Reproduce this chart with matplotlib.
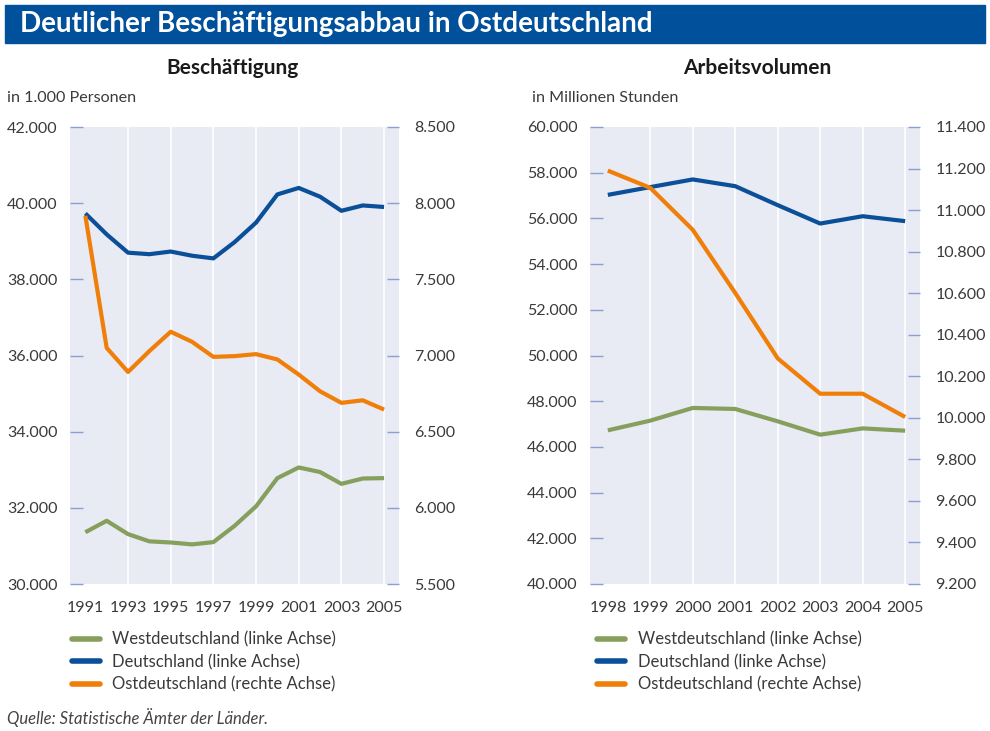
import matplotlib.pyplot as plt
import matplotlib.patches as mpatches
from matplotlib.ticker import FuncFormatter
from matplotlib.lines import Line2D

# Beschäftigung, in 1.000 Personen
years_b = list(range(1991, 2006))
west_b = [31360, 31660, 31310, 31120, 31090, 31040, 31100, 31530, 32040,
          32780, 33060, 32940, 32630, 32770, 32780]
de_b = [39730, 39180, 38700, 38660, 38730, 38620, 38550, 38980, 39490,
        40230, 40400, 40170, 39800, 39940, 39900]
ost_b = [7917, 7050, 6892, 7029, 7156, 7090, 6991, 6996, 7009,
         6974, 6875, 6765, 6689, 6706, 6645]

# Arbeitsvolumen, in Millionen Stunden
years_a = list(range(1998, 2006))
west_a = [46725, 47150, 47705, 47660, 47120, 46535, 46810, 46710]
de_a = [57030, 57370, 57705, 57410, 56580, 55775, 56095, 55880]
ost_a = [11190, 11107, 10905, 10601, 10286, 10116, 10116, 10004]

labels = ["Westdeutschland (linke Achse)", "Deutschland (linke Achse)",
          "Ostdeutschland (rechte Achse)"]

GREEN = "#879f5c"
BLUE = "#0a4f98"
ORANGE = "#f07f0a"
BG = "#e8eaf4"
TICK = "#8c9fd2"
TXT = "#3a3a3a"
FONT = "Lato"

plt.rcParams["font.family"] = [FONT, "DejaVu Sans"]

fig = plt.figure(figsize=(9.9, 7.31), dpi=100)

# title bar
fig.patches.append(mpatches.Rectangle((5 / 990, 1 - 43 / 731), 980 / 990, 38 / 731,
                                      transform=fig.transFigure, color="#00509b",
                                      zorder=0))
fig.text(20 / 990, 1 - 24 / 731, "Deutlicher Beschäftigungsabbau in Ostdeutschland",
         color="white", fontsize=20, fontweight="bold", va="center")


def thousands(v, pos):
    return f"{int(round(v)):,}".replace(",", ".")


def panel(rect, years, west, de, ost, ylim_l, yticks_l, ylim_r, yticks_r,
          xlim, xticks, grid_years, title, unit, title_x, unit_x):
    ax = fig.add_axes(rect)
    ax.set_facecolor(BG)
    ax.set_xlim(*xlim)
    ax.set_ylim(*ylim_l)
    for gy in grid_years:
        ax.axvline(gy, color="white", lw=1.2, zorder=1)
    ax.plot(years, west, color=GREEN, lw=3, zorder=3, solid_capstyle="butt")
    ax.plot(years, de, color=BLUE, lw=3, zorder=3, solid_capstyle="butt")
    ax.set_yticks(yticks_l)
    ax.set_xticks(xticks)
    ax.yaxis.set_major_formatter(FuncFormatter(thousands))
    ax.tick_params(axis="y", direction="in", length=9, width=1, color=TICK,
                   pad=9, labelsize=11.5, labelcolor=TXT)
    ax.tick_params(axis="x", length=0, pad=12, labelsize=11.5, labelcolor=TXT)
    for s in ax.spines.values():
        s.set_visible(False)

    ax2 = ax.twinx()
    ax2.set_ylim(*ylim_r)
    ax2.plot(years, ost, color=ORANGE, lw=3, zorder=3, solid_capstyle="butt")
    ax2.set_yticks(yticks_r)
    ax2.yaxis.set_major_formatter(FuncFormatter(thousands))
    ax2.tick_params(axis="y", direction="in", length=9, width=1, color=TICK,
                    pad=11, labelsize=11.5, labelcolor=TXT)
    for s in ax2.spines.values():
        s.set_visible(False)

    fig.text(title_x / 990, 1 - 68 / 731, title, fontsize=15, fontweight="bold",
             ha="center", va="center", color="#1a1a1a")
    fig.text(unit_x / 990, 1 - 98 / 731, unit, fontsize=11.6, ha="left",
             va="center", color=TXT)

    handles = [Line2D([], [], color=c, lw=4, solid_capstyle="round")
               for c in (GREEN, BLUE, ORANGE)]
    leg = fig.legend(handles, labels, loc="upper left",
                     bbox_to_anchor=((unit_x + 58) / 990, 1 - 625 / 731),
                     frameon=False, fontsize=12, handlelength=1.7,
                     handletextpad=0.75, labelspacing=0.38, borderaxespad=0)
    for t in leg.get_texts():
        t.set_color(TXT)
    return ax


panel([70 / 990, 1 - 584 / 731, 329 / 990, 457 / 731], years_b, west_b, de_b, ost_b,
      (30000, 42000), range(30000, 42001, 2000), (5500, 8500), range(5500, 8501, 500),
      (1990.28, 2005.7), range(1991, 2006, 2), range(1993, 2006, 2),
      "Beschäftigung", "in 1.000 Personen", 232, 7)

panel([590 / 990, 1 - 584 / 731, 330 / 990, 457 / 731], years_a, west_a, de_a, ost_a,
      (40000, 60000), range(40000, 60001, 2000), (9200, 11400), range(9200, 11401, 200),
      (1997.58, 2005.35), years_a, range(1999, 2006),
      "Arbeitsvolumen", "in Millionen Stunden", 757, 532)

fig.text(7 / 990, 1 - 718 / 731, "Quelle: Statistische Ämter der Länder.",
         fontsize=12, style="italic", color="#444444", va="center")

fig.savefig("out.png", dpi=100)
